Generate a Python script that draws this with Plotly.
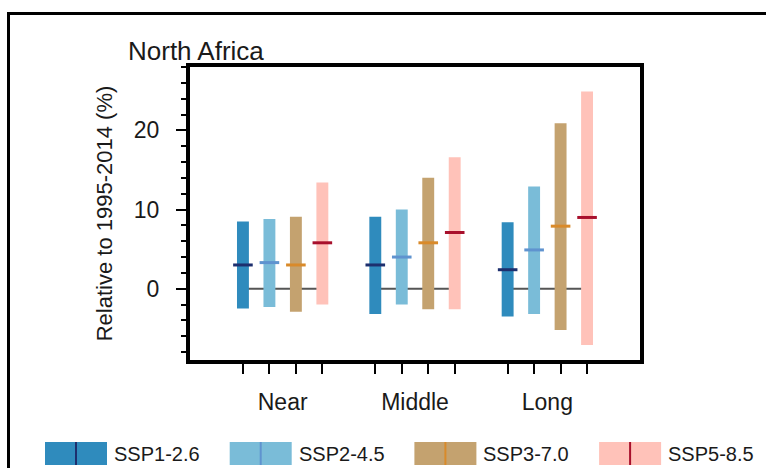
import plotly.graph_objects as go

# Projected change ranges (%) for North Africa, per period and scenario
periods = ["Near", "Middle", "Long"]
scenarios = ["SSP1-2.6", "SSP2-4.5", "SSP3-7.0", "SSP5-8.5"]

low = {
    "SSP1-2.6": [-2.5, -3.2, -3.5],
    "SSP2-4.5": [-2.3, -2.0, -3.2],
    "SSP3-7.0": [-2.9, -2.6, -5.2],
    "SSP5-8.5": [-2.0, -2.6, -7.1],
}
high = {
    "SSP1-2.6": [8.5, 9.1, 8.4],
    "SSP2-4.5": [8.8, 10.0, 12.9],
    "SSP3-7.0": [9.1, 14.0, 20.9],
    "SSP5-8.5": [13.4, 16.6, 24.9],
}
median = {
    "SSP1-2.6": [3.0, 3.0, 2.4],
    "SSP2-4.5": [3.3, 4.0, 4.9],
    "SSP3-7.0": [3.0, 5.8, 7.9],
    "SSP5-8.5": [5.8, 7.1, 9.0],
}

bar_colors = ["#2f8bbd", "#7abcd8", "#c4a26f", "#ffc2b9"]
med_colors = ["#1d2f6e", "#5f93cf", "#d98a2a", "#a8102c"]

FONT = "Liberation Sans, Arial, Helvetica, sans-serif"
TXT = "#1a1a1a"
W, H = 766, 468
ML, MR, MT, MB = 190, 126, 67, 108
PW, PH = W - ML - MR, H - MT - MB


def px_x(p):
    return (p - ML) / PW


def px_y(p):
    return (H - MB - p) / PH


def xpos(g, s):
    return g * 5 + s + 1


fig = go.Figure()

for s, name in enumerate(scenarios):
    xs = [xpos(g, s) for g in range(len(periods))]
    fig.add_trace(go.Bar(
        x=xs,
        y=[h - l for h, l in zip(high[name], low[name])],
        base=low[name],
        width=0.45,
        marker=dict(color=bar_colors[s], line=dict(width=0)),
        name=name,
        showlegend=False,
    ))

for s, name in enumerate(scenarios):
    xs = [xpos(g, s) for g in range(len(periods))]
    fig.add_trace(go.Scatter(
        x=xs, y=median[name], mode="markers",
        marker=dict(symbol="line-ew", size=14,
                    line=dict(color=med_colors[s], width=3)),
        showlegend=False, hoverinfo="skip",
    ))

# zero reference lines under each period group
shapes = []
for g in range(len(periods)):
    shapes.append(dict(type="line", xref="x", yref="y", layer="below",
                       x0=xpos(g, 0), x1=xpos(g, len(scenarios) - 1), y0=0, y1=0,
                       line=dict(color="#555555", width=2)))

# outer panel frame
shapes.append(dict(type="rect", xref="paper", yref="paper",
                   x0=px_x(8.5), x1=px_x(900), y0=px_y(13.5), y1=px_y(900),
                   line=dict(color="black", width=3), fillcolor="rgba(0,0,0,0)"))

# legend swatches
annotations = []
for s, name in enumerate(scenarios):
    x0 = 45 + s * 184.7
    x1 = x0 + 62
    shapes.append(dict(type="rect", xref="paper", yref="paper",
                       x0=px_x(x0), x1=px_x(x1), y0=px_y(465), y1=px_y(442),
                       line=dict(width=0), fillcolor=bar_colors[s]))
    xm = (x0 + x1) / 2
    shapes.append(dict(type="line", xref="paper", yref="paper",
                       x0=px_x(xm), x1=px_x(xm), y0=px_y(465), y1=px_y(442),
                       line=dict(color=med_colors[s], width=2)))
    annotations.append(dict(xref="paper", yref="paper", x=px_x(x1 + 5), y=px_y(453.5),
                            xanchor="left", yanchor="middle", showarrow=False,
                            text=name, font=dict(family=FONT, size=20, color=TXT)))

annotations.append(dict(xref="paper", yref="paper", x=px_x(126), y=px_y(68),
                        xanchor="left", yanchor="bottom", showarrow=False,
                        text="North Africa", font=dict(family=FONT, size=26, color=TXT)))

tickvals = [xpos(g, s) for g in range(len(periods)) for s in range(len(scenarios))]
centers = [xpos(g, 1.5) for g in range(len(periods))]
xrange = [-1, 16]

fig.add_trace(go.Scatter(x=centers, y=[None] * 3, xaxis="x2", showlegend=False,
                         hoverinfo="skip"))

fig.update_layout(
    width=W, height=H,
    margin=dict(l=ML, r=MR, t=MT, b=MB),
    paper_bgcolor="white", plot_bgcolor="white",
    font=dict(family=FONT, size=23, color=TXT),
    shapes=shapes, annotations=annotations,
    showlegend=False, barmode="overlay",
    xaxis=dict(range=xrange, tickvals=tickvals, ticktext=[""] * len(tickvals),
               ticks="outside", ticklen=10, tickwidth=2, tickcolor="black",
               showline=True, linewidth=4, linecolor="black", mirror=True,
               showgrid=False, zeroline=False),
    xaxis2=dict(range=xrange, overlaying="x", side="bottom", tickvals=centers,
                ticktext=periods, ticks="", showline=False, showgrid=False,
                zeroline=False, ticklabelstandoff=26,
                tickfont=dict(family=FONT, size=23, color=TXT)),
    yaxis=dict(range=[-9, 28], tick0=0, dtick=10,
               ticks="outside", ticklen=10, tickwidth=2, tickcolor="black",
               minor=dict(dtick=2, tick0=0, ticks="outside", ticklen=5,
                          tickwidth=2, tickcolor="black", showgrid=False),
               showline=True, linewidth=4, linecolor="black", mirror=True,
               showgrid=False, zeroline=False, ticklabelstandoff=12,
               tickfont=dict(family=FONT, size=23, color=TXT),
               title=dict(text="Relative to 1995-2014 (%)", standoff=16,
                          font=dict(family=FONT, size=22, color=TXT))),
)

fig.write_html("out.html")
